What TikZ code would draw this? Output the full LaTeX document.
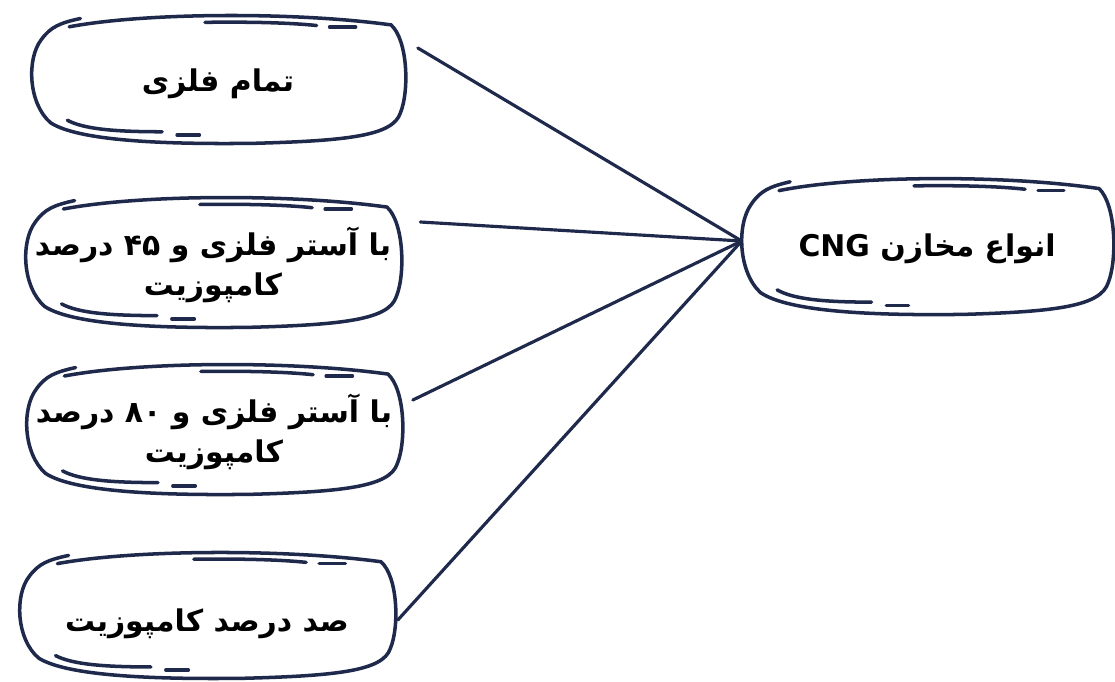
\documentclass[tikz,border=0pt]{standalone}
\usepackage{fontspec}
\newfontfamily\arabicfont[Script=Arabic]{DejaVu Sans}
\TeXXeTstate=1
\usetikzlibrary{calc}
\definecolor{inkblue}{RGB}{30,41,75}
\begin{document}
\begin{tikzpicture}
[x=0.02cm,y=-0.02cm,
  nodedecorate/.style={shape=rectangle,inner sep=0pt,align=center,
    font=\arabicfont\bfseries\fontsize{17}{23}\selectfont},
  sketchdecorate/.style={draw=inkblue,line width=2pt,line cap=round},
  linedecorate/.style={-,draw=inkblue,line width=1.8pt,line cap=round}]
\useasboundingbox (0,0) rectangle (1115,681);
%% nodes or boxes
\node (allmetal) at (218,84) [nodedecorate,minimum width=7.46cm,minimum height=2.56cm]
  {\beginR تمام فلزی\endR};
\node (liner45) at (213,265) [nodedecorate,minimum width=7.48cm,minimum height=2.6cm]
  {\beginR با آستر فلزی و ۴۵ درصد\endR\\\beginR کامپوزیت\endR};
\node (liner80) at (214,432) [nodedecorate,minimum width=7.5cm,minimum height=2.6cm]
  {\beginR با آستر فلزی و ۸۰ درصد\endR\\\beginR کامپوزیت\endR};
\node (fullcomp) at (207,624) [nodedecorate,minimum width=7.46cm,minimum height=2.52cm]
  {\beginR صد درصد کامپوزیت\endR};
\node (cng) at (927,249) [nodedecorate,minimum width=7.4cm,minimum height=2.72cm]
  {\beginR انواع مخازن \beginL CNG\endL\endR};
%% hand drawn outlines
\foreach \nodename/\a/\b/\off in {allmetal/186/64/6, liner45/187/65/4, liner80/187/65/4,
  fullcomp/187/63/10, cng/185/68/4} {
  \begin{scope}[shift={(\nodename.center)},yshift=\off*0.02cm,x={(\a*0.02cm,0)},y={(0,-\b*0.02cm)}]
    \draw[sketchdecorate] (-0.80,-0.80) .. controls (-0.4,-1.02) and (0.4,-1.04) .. (0.93,-0.83)
      .. controls (1.02,-0.6) and (1.03,0.2) .. (0.98,0.55)
      .. controls (0.94,0.9) and (0.7,0.98) .. (0.2,1.02)
      .. controls (-0.3,1.04) and (-0.75,0.98) .. (-0.9,0.7)
      .. controls (-1.02,0.4) and (-1.03,-0.3) .. (-0.95,-0.6)
      .. controls (-0.9,-0.8) and (-0.85,-0.86) .. (-0.74,-0.93);
    \draw[sketchdecorate] (-0.07,-0.87) .. controls (0.2,-0.88) and (0.4,-0.86) .. (0.53,-0.82);
    \draw[sketchdecorate] (0.60,-0.80) -- (0.74,-0.80);
    \draw[sketchdecorate] (-0.81,0.66) .. controls (-0.72,0.8) and (-0.55,0.84) .. (-0.30,0.84);
    \draw[sketchdecorate] (-0.22,0.89) -- (-0.10,0.89);
  \end{scope}
}
%% edges or lines
\path
\foreach \startnode/\dx/\dy in {allmetal/13/-36, liner45/20/-43, liner80/11/-32,
  fullcomp/4/-4} {
  ($(\startnode.east)+(\dx,\dy)$) edge[linedecorate] ($(cng.west)+(0,-8)$)
};
\end{tikzpicture}
\end{document}
